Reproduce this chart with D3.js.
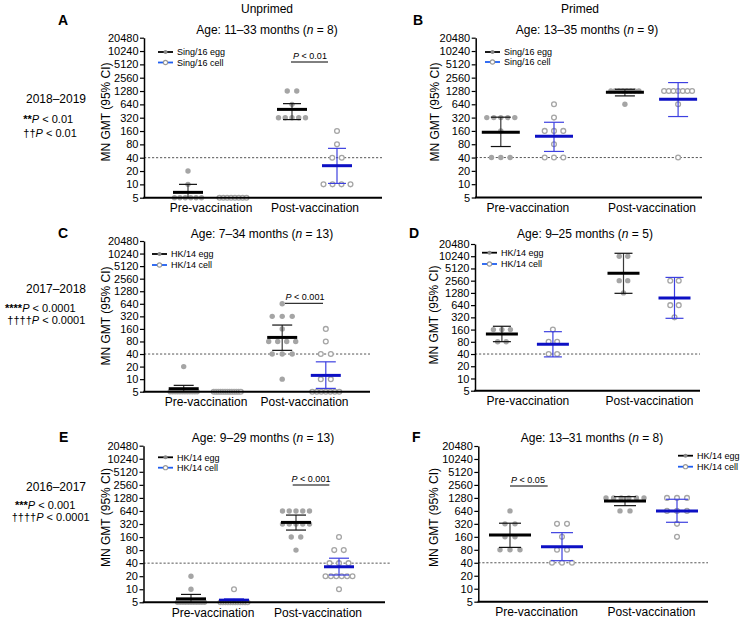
<!DOCTYPE html>
<html><head><meta charset="utf-8">
<script src="https://cdn.jsdelivr.net/npm/d3@7"></script>
<style>body{margin:0;background:#fff} svg{display:block;font-family:"Liberation Sans",Arial,Helvetica,sans-serif}</style>
</head><body><svg id="c" width="746" height="627"></svg>
<script>
// ---------- shared ----------
const yTicks = [5, 10, 20, 40, 80, 160, 320, 640, 1280, 2560, 5120, 10240, 20480];
const groups = ["Pre-vaccination", "Post-vaccination"];
const seriesKeys = ["egg", "cell"];
const threshold = 40;
// column order for gmt/lo/hi: egg pre, cell pre, egg post, cell post

// ---------- Panel A : 2018–2019 unprimed ----------
const A_legend = ["Sing/16 egg", "Sing/16 cell"];
const A_age = "11–33", A_n = 8;
const A_eggPre = [20, 10, 5, 5, 5, 5, 5, 5];
const A_cellPre = [5, 5, 5, 5, 5, 5, 5, 5];
const A_eggPost = [1280, 1280, 640, 320, 320, 320, 320, 320];
const A_cellPost = [160, 80, 40, 40, 10, 10, 10, 10];
const A_gmt = [6.6, 5, 493, 26.4];
const A_lo = [4, 5, 290, 10.5];
const A_hi = [10, 5, 665, 65];
const A_pval = "< 0.01";

// ---------- Panel B : 2018–2019 primed ----------
const B_legend = ["Sing/16 egg", "Sing/16 cell"];
const B_age = "13–35", B_n = 9;
const B_eggPre = [320, 320, 320, 320, 320, 160, 40, 40, 40];
const B_cellPre = [640, 320, 160, 160, 160, 80, 40, 40, 40];
const B_eggPost = [1280, 1280, 1280, 1280, 1280, 1280, 1280, 1280, 640];
const B_cellPost = [1280, 1280, 1280, 1280, 1280, 1280, 1280, 640, 40];
const B_gmt = [150, 121, 1197, 833];
const B_lo = [71, 55, 990, 338];
const B_hi = [327, 251, 1400, 1980];

// ---------- Panel C : 2017–2018 unprimed ----------
const C_legend = ["HK/14 egg", "HK/14 cell"];
const C_age = "7–34", C_n = 13;
const C_eggPre = [20, 5, 5, 5, 5, 5, 5, 5, 5, 5, 5, 5, 5];
const C_cellPre = [5, 5, 5, 5, 5, 5, 5, 5, 5, 5, 5, 5, 5];
const C_eggPost = [640, 320, 320, 320, 160, 80, 80, 80, 80, 40, 40, 40, 10];
const C_cellPost = [160, 80, 40, 40, 10, 10, 5, 5, 5, 5, 5, 5, 5];
const C_gmt = [5.9, 5, 100, 12.3];
const C_lo = [4.5, 5, 49, 6];
const C_hi = [7.1, 5, 198, 26];
const C_pval = "< 0.001";

// ---------- Panel D : 2017–2018 primed ----------
const D_legend = ["HK/14 egg", "HK/14 cell"];
const D_age = "9–25", D_n = 5;
const D_eggPre = [160, 160, 160, 80, 80];
const D_cellPre = [160, 80, 80, 40, 40];
const D_eggPost = [10240, 10240, 2560, 2560, 1280];
const D_cellPost = [2560, 2560, 640, 640, 320];
const D_gmt = [125, 69.6, 3900, 962];
const D_lo = [80.6, 34, 1250, 303];
const D_hi = [193, 142, 12100, 3080];

// ---------- Panel E : 2016–2017 unprimed ----------
const E_legend = ["HK/14 egg", "HK/14 cell"];
const E_age = "9–29", E_n = 13;
const E_eggPre = [20, 10, 5, 5, 5, 5, 5, 5, 5, 5, 5, 5, 5];
const E_cellPre = [10, 5, 5, 5, 5, 5, 5, 5, 5, 5, 5, 5, 5];
const E_eggPost = [640, 640, 640, 640, 640, 320, 320, 320, 320, 320, 160, 160, 80];
const E_cellPost = [160, 80, 80, 40, 40, 40, 20, 20, 20, 20, 20, 20, 10];
const E_gmt = [6.0, 5.6, 348, 33];
const E_lo = [4.6, 4.8, 232, 21.3];
const E_hi = [7.6, 6.0, 514, 52];
const E_pval = "< 0.001";

// ---------- Panel F : 2016–2017 primed ----------
const F_legend = ["HK/14 egg", "HK/14 cell"];
const F_age = "13–31", F_n = 8;
const F_eggPre = [640, 320, 320, 160, 160, 80, 80, 80];
const F_cellPre = [320, 320, 160, 80, 80, 40, 40, 40];
const F_eggPost = [1280, 1280, 1280, 1280, 1280, 1280, 640, 640];
const F_cellPost = [1280, 1280, 1280, 640, 640, 640, 320, 160];
const F_gmt = [176, 94.5, 1086, 636];
const F_lo = [91, 44.7, 846, 348];
const F_hi = [331, 200, 1370, 1190];
const F_pval = "< 0.05";

// ---------- row side labels ----------
const seasons = ["2018–2019", "2017–2018", "2016–2017"];
const seasonStars = [["**", "< 0.01"], ["****", "< 0.0001"], ["***", "< 0.001"]];
const seasonDaggers = [["††", "< 0.01"], ["††††", "< 0.0001"], ["††††", "< 0.0001"]];

// ---------- layout ----------
const panels = [
  {id:"A", legend:A_legend, age:A_age, n:A_n, cols:[A_eggPre,A_cellPre,A_eggPost,A_cellPost], gmt:A_gmt, lo:A_lo, hi:A_hi,
   left:144, right:382, dashEnd:382, top:37.7, bottom:197.7, preC:210.5, postC:314.5, off:22.5, meanHalf:15, capHalf:9, maxSp:9.5, maxSpan:27,
   ageX:267, ageY:34, letterX:58, letterY:25, ylabX:110, ylabY:112, legX:158, legY:[52,62.5],
   bracket:{p:A_pval, x1:291, x2:328, y:62, tx:310, ty:59}},
  {id:"B", legend:B_legend, age:B_age, n:B_n, cols:[B_eggPre,B_cellPre,B_eggPost,B_cellPost], gmt:B_gmt, lo:B_lo, hi:B_hi,
   left:475.7, right:702, dashEnd:702, top:37.7, bottom:197.5, preC:527.4, postC:651.5, off:26.6, meanHalf:19, capHalf:10, maxSp:9.3, maxSpan:28,
   ageX:587, ageY:34, letterX:413, letterY:25, ylabX:439, ylabY:112, legX:485, legY:[52,62]},
  {id:"C", legend:C_legend, age:C_age, n:C_n, cols:[C_eggPre,C_cellPre,C_eggPost,C_cellPost], gmt:C_gmt, lo:C_lo, hi:C_hi,
   left:144, right:370, dashEnd:370, top:241, bottom:391.7, preC:205.5, postC:304, off:21.8, meanHalf:15, capHalf:10, maxSp:10, maxSpan:27,
   ageX:262, ageY:238.3, letterX:58, letterY:237.7, ylabX:110, ylabY:316, legX:152, legY:[254,265],
   bracket:{p:C_pval, x1:285, x2:323, y:303.3, tx:305, ty:299.5}},
  {id:"D", legend:D_legend, age:D_age, n:D_n, cols:[D_eggPre,D_cellPre,D_eggPost,D_cellPost], gmt:D_gmt, lo:D_lo, hi:D_hi,
   left:475, right:700, dashEnd:700, top:244, bottom:390.7, preC:527.4, postC:649, off:25.5, meanHalf:16, capHalf:9, maxSp:8.5, maxSpan:27,
   ageX:585, ageY:237.7, letterX:409, letterY:237.7, ylabX:438, ylabY:315, legX:482, legY:[252.7,264]},
  {id:"E", legend:E_legend, age:E_age, n:E_n, cols:[E_eggPre,E_cellPre,E_eggPost,E_cellPost], gmt:E_gmt, lo:E_lo, hi:E_hi,
   left:143.5, right:385, dashEnd:390, top:445.7, bottom:602.3, preC:212.5, postC:317.5, off:21.5, meanHalf:15, capHalf:10, maxSp:9.5, maxSpan:27,
   ageX:263, ageY:442.3, letterX:59, letterY:441.7, ylabX:110, ylabY:517.5, legX:158, legY:[457.3,467.7],
   bracket:{p:E_pval, x1:292.7, x2:329.3, y:485, tx:311, ty:481.5}},
  {id:"F", legend:F_legend, age:F_age, n:F_n, cols:[F_eggPre,F_cellPre,F_eggPost,F_cellPost], gmt:F_gmt, lo:F_lo, hi:F_hi,
   left:478.3, right:708, dashEnd:708, top:446, bottom:601.7, preC:536, postC:651, off:26, meanHalf:21, capHalf:11, maxSp:10, maxSpan:38,
   ageX:592, ageY:442, letterX:412, letterY:441.7, ylabX:438, ylabY:517.5, legX:678, legY:[455.7,466.7],
   bracket:{p:F_pval, x1:510, x2:547.7, y:486, tx:528, ty:482.5}}
];

const DOT = "#a5a5a5";
const EGG_MEAN = "#000000", EGG_BAR = "#3a3a3a";
const CELL_MEAN = "#0d10c4", CELL_BAR = "#3d40e0";
const LEG_CELL = "#1f5ef0";

const svg = d3.select("#c");

// column headers
svg.append("text").attr("x", 267).attr("y", 13).attr("text-anchor", "middle").attr("font-size", 12).text("Unprimed");
svg.append("text").attr("x", 580).attr("y", 13).attr("text-anchor", "middle").attr("font-size", 12).text("Primed");

// row side labels
const sideLayout = [
  {yearY:103, starY:123, dagY:136.7, starX:23.3, dagX:23.3},
  {yearY:293.3, starY:312.3, dagY:324.3, starX:5, dagX:7.3},
  {yearY:491, starY:509.3, dagY:521, starX:15, dagX:11.7}
];
seasons.forEach((s, i) => {
  const L = sideLayout[i];
  svg.append("text").attr("x", 56).attr("y", L.yearY).attr("text-anchor", "middle").attr("font-size", 12).text(s);
  const t1 = svg.append("text").attr("x", L.starX).attr("y", L.starY).attr("font-size", 11);
  t1.append("tspan").attr("font-weight", "bold").text(seasonStars[i][0]);
  t1.append("tspan").attr("font-style", "italic").text("P");
  t1.append("tspan").text(" " + seasonStars[i][1]);
  const t2 = svg.append("text").attr("x", L.dagX).attr("y", L.dagY).attr("font-size", 11);
  t2.append("tspan").text(seasonDaggers[i][0]);
  t2.append("tspan").attr("font-style", "italic").text("P");
  t2.append("tspan").text(" " + seasonDaggers[i][1]);
});

panels.forEach(p => {
  const g = svg.append("g");
  const y = d3.scaleLog().base(2).domain([5, 20480]).range([p.bottom, p.top]).clamp(true);
  const x = d3.scalePoint().domain(groups).range([p.preC, p.postC]);
  const xs = d3.scalePoint().domain(seriesKeys).range([-p.off, p.off]);

  // letter
  g.append("text").attr("x", p.letterX).attr("y", p.letterY).attr("font-size", 14).attr("font-weight", "bold").text(p.id);
  // age title
  const at = g.append("text").attr("x", p.ageX).attr("y", p.ageY).attr("text-anchor", "middle").attr("font-size", 12);
  at.append("tspan").text(`Age: ${p.age} months (`);
  at.append("tspan").attr("font-style", "italic").text("n");
  at.append("tspan").text(` = ${p.n})`);
  // y label
  g.append("text").attr("transform", `translate(${p.ylabX},${p.ylabY}) rotate(-90)`).attr("text-anchor", "middle")
    .attr("font-size", 12).text("MN GMT (95% CI)");

  // threshold dashed line
  g.append("line").attr("x1", p.left).attr("x2", p.dashEnd).attr("y1", y(threshold)).attr("y2", y(threshold))
    .attr("stroke", "#444").attr("stroke-width", 0.9).attr("stroke-dasharray", "2.2,1.8");

  // points
  p.cols.forEach((vals, ci) => {
    const grp = groups[Math.floor(ci / 2)], s = seriesKeys[ci % 2];
    const cx = x(grp) + xs(s);
    const rows = d3.group(vals, v => v);
    rows.forEach((arr, v) => {
      const n = arr.length;
      const sp = n > 1 ? Math.min(p.maxSp, p.maxSpan / (n - 1)) : 0;
      arr.forEach((_, i) => {
        const c = g.append("circle").attr("cx", cx + (i - (n - 1) / 2) * sp).attr("cy", y(v));
        if (s === "egg") c.attr("r", 2.7).attr("fill", DOT);
        else c.attr("r", 2.4).attr("fill", "#fff").attr("stroke", DOT).attr("stroke-width", 1.3);
      });
    });
  });

  // error bars + means
  p.cols.forEach((vals, ci) => {
    const grp = groups[Math.floor(ci / 2)], s = seriesKeys[ci % 2];
    const cx = x(grp) + xs(s);
    const barC = s === "egg" ? EGG_BAR : CELL_BAR;
    const meanC = s === "egg" ? EGG_MEAN : CELL_MEAN;
    const lo = p.lo[ci], hi = p.hi[ci], m = p.gmt[ci];
    if (hi > lo) {
      g.append("line").attr("x1", cx).attr("x2", cx).attr("y1", y(lo)).attr("y2", y(hi)).attr("stroke", barC).attr("stroke-width", 1.2);
      [lo, hi].forEach(v => {
        if (v > 5 && v < 20480)
          g.append("line").attr("x1", cx - p.capHalf).attr("x2", cx + p.capHalf).attr("y1", y(v)).attr("y2", y(v))
            .attr("stroke", s === "egg" ? "#111" : barC).attr("stroke-width", 1.2);
      });
    }
    if (m > 5)
      g.append("line").attr("x1", cx - p.meanHalf).attr("x2", cx + p.meanHalf).attr("y1", y(m)).attr("y2", y(m))
        .attr("stroke", meanC).attr("stroke-width", 3);
  });

  // y axis
  const ax = d3.axisLeft(y).tickValues(yTicks).tickFormat(d3.format("d")).tickSize(4).tickSizeOuter(0).tickPadding(1.5);
  const ag = g.append("g").attr("transform", `translate(${p.left},0)`).call(ax);
  ag.select(".domain").attr("stroke", "#000").attr("stroke-width", 1.5);
  ag.selectAll(".tick line").attr("stroke", "#000").attr("stroke-width", 1.2);
  ag.selectAll(".tick text").attr("font-size", 11).attr("font-family", "Liberation Sans, Arial, sans-serif").attr("fill", "#000");

  // x axis
  g.append("line").attr("x1", p.left - 0.75).attr("x2", p.right).attr("y1", p.bottom).attr("y2", p.bottom)
    .attr("stroke", "#000").attr("stroke-width", 2);
  const xa = d3.axisBottom(x).tickSize(0).tickPadding(5);
  const xg = g.append("g").attr("transform", `translate(0,${p.bottom + 1})`).call(xa);
  xg.select(".domain").remove();
  xg.selectAll(".tick text").attr("font-size", 12).attr("font-family", "Liberation Sans, Arial, sans-serif").attr("fill", "#000");

  // legend
  p.legend.forEach((name, i) => {
    const ly = p.legY[i];
    g.append("line").attr("x1", p.legX).attr("x2", p.legX + 15).attr("y1", ly).attr("y2", ly)
      .attr("stroke", i === 0 ? "#000" : LEG_CELL).attr("stroke-width", 1.8);
    const mk = g.append("circle").attr("cx", p.legX + 7.5).attr("cy", ly);
    if (i === 0) mk.attr("r", 2).attr("fill", "#888");
    else mk.attr("r", 2.1).attr("fill", "#fff").attr("stroke", "#999").attr("stroke-width", 1.1);
    g.append("text").attr("x", p.legX + 19).attr("y", ly + 3.2).attr("font-size", 9).text(name);
  });

  // significance bracket
  if (p.bracket) {
    const b = p.bracket;
    g.append("line").attr("x1", b.x1).attr("x2", b.x2).attr("y1", b.y).attr("y2", b.y).attr("stroke", "#000").attr("stroke-width", 1);
    const bt = g.append("text").attr("x", b.tx).attr("y", b.ty).attr("text-anchor", "middle").attr("font-size", 9);
    bt.append("tspan").attr("font-style", "italic").text("P");
    bt.append("tspan").text(" " + b.p);
  }
});
</script>
</body></html>
